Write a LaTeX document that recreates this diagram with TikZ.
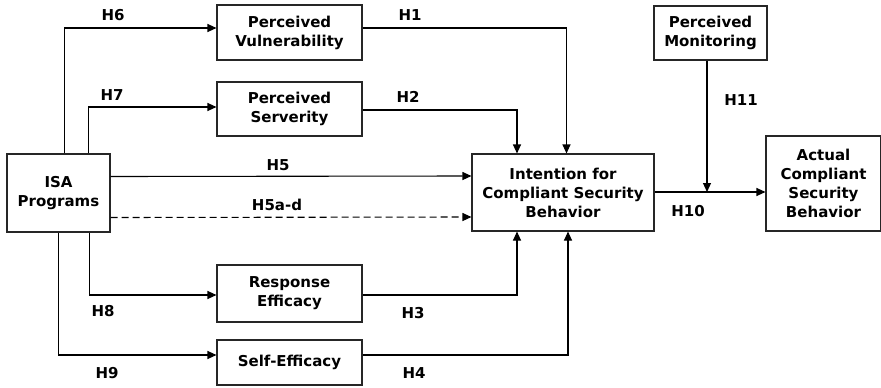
\documentclass[tikz,border=0pt]{standalone}
\usepackage{fontspec}
\setmainfont{DejaVu Sans}
\usetikzlibrary{arrows.meta}

\begin{document}
\begin{tikzpicture}[
    x=1pt, y=-1pt,
    box/.style={rectangle, draw=black!85, line width=1.1pt, align=center, inner sep=0pt, font=\fontsize{15}{19}\selectfont\bfseries},
    hyp/.style={font=\fontsize{15}{19}\selectfont\bfseries, inner sep=0pt},
    conn/.style={-{Triangle[length=9pt, width=8pt]}, line width=1.1pt}
]
    \useasboundingbox (0,0) rectangle (881,388);

    % Constructs
    \node[box, minimum width=103pt, minimum height=78pt] (isa) at (58.5,193) {ISA\\Programs};
    \node[box, minimum width=145pt, minimum height=55pt] (pv) at (289.5,32.5) {Perceived\\Vulnerability};
    \node[box, minimum width=145pt, minimum height=54pt] (ps) at (289.5,109) {Perceived\\Serverity};
    \node[box, minimum width=145pt, minimum height=57pt] (re) at (289.5,293.5) {Response\\Efficacy};
    \node[box, minimum width=145pt, minimum height=45pt] (se) at (289.5,362.5) {Self-Efficacy};
    \node[box, minimum width=182pt, minimum height=77pt] (icsb) at (563,192.5) {Intention for\\Compliant Security\\Behavior};
    \node[box, minimum width=113pt, minimum height=54pt] (pm) at (710.5,33) {Perceived\\Monitoring};
    \node[box, minimum width=115pt, minimum height=95pt] (acsb) at (823.5,183.5) {Actual\\Compliant\\Security\\Behavior};
    \coordinate (join) at (707,192);

    % ISA programs to the antecedents
    \draw[conn] ([xshift=58pt]isa.north west) |- ([yshift=4.5pt]pv.west);
    \draw[conn] ([xshift=82pt]isa.north west) |- ([yshift=2pt]ps.west);
    \draw[conn] ([xshift=83pt]isa.south west) |- ([yshift=-1.5pt]re.west);
    \draw[conn] ([xshift=52pt]isa.south west) |- ([yshift=7.5pt]se.west);
    \draw[conn] ([yshift=16.5pt]isa.east) -- ([yshift=16.5pt]icsb.west);
    \draw[conn, dashed, dash pattern=on 7pt off 4pt] ([yshift=-24.5pt]isa.east) -- ([yshift=-24.5pt]icsb.west);

    % Antecedents to intention
    \draw[conn] ([yshift=4.5pt]pv.east) -| ([xshift=3.5pt]icsb.north);
    \draw[conn] ([yshift=-1pt]ps.east) -| ([xshift=-46pt]icsb.north);
    \draw[conn] ([yshift=-1.5pt]re.east) -| ([xshift=-46pt]icsb.south);
    \draw[conn] ([yshift=7.5pt]se.east) -| ([xshift=5pt]icsb.south);

    % Intention to behavior, moderated by monitoring
    \draw[conn] (icsb.east |- join) -- (join -| acsb.west);
    \draw[conn] (pm.south -| join) -- (join);

    % Hypotheses
    \node[hyp] (h1) at (410,15) {H1};
    \node[hyp] (h2) at (408,97) {H2};
    \node[hyp] (h3) at (413,313) {H3};
    \node[hyp] (h4) at (414,373) {H4};
    \node[hyp] (h5) at (278,165) {H5};
    \node[hyp] (h5ad) at (277,205) {H5a-d};
    \node[hyp] (h6) at (113,15) {H6};
    \node[hyp] (h7) at (112,95) {H7};
    \node[hyp] (h8) at (103,311) {H8};
    \node[hyp] (h9) at (107,373) {H9};
    \node[hyp] (h10) at (688,211) {H10};
    \node[hyp] (h11) at (741,100) {H11};

\end{tikzpicture}
\end{document}
